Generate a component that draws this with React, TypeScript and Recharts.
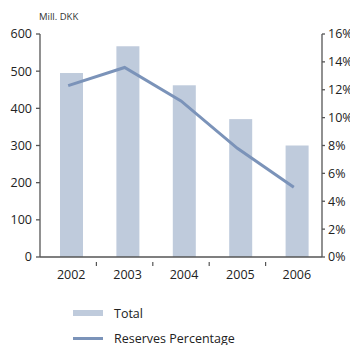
import React from 'react';
import { ComposedChart, Bar, Line, XAxis, YAxis } from 'recharts';

const years = ['2002', '2003', '2004', '2005', '2006'];
const totals = [495, 567, 462, 371, 300];
const reservesPct = [12.3, 13.6, 11.2, 7.8, 5.0];
const leftTicks = [0, 100, 200, 300, 400, 500, 600];
const rightTicks = [0, 2, 4, 6, 8, 10, 12, 14, 16];
const seriesNames = ['Total', 'Reserves Percentage'];

const BAR_COLOR = '#bfcbdc';
const LINE_COLOR = '#7b93b9';
const AXIS_COLOR = '#555';
const FONT = '"Open Sans", sans-serif';

const data = years.map((y, i) => ({ year: y, total: totals[i], pct: reservesPct[i] }));

// bars in the original sit a few px right of the band centre
const ShiftedBar = (props: any) => {
  const { x, y, width, height } = props;
  return <rect x={x + 3} y={y} width={width} height={height} fill={BAR_COLOR} />;
};

// year label plus a tick mark on the boundary between categories
const YearTick = (props: any) => {
  const { x, y, payload, index } = props;
  const half = 28.2;
  return (
    <g>
      {index < years.length - 1 && (
        <line x1={x + half} x2={x + half} y1={y - 3} y2={y + 1} stroke={AXIS_COLOR} strokeWidth={1.2} />
      )}
      <text x={x + 3} y={y + 14} textAnchor="middle" fill="#222" fontSize={12.5} fontFamily={FONT}>
        {payload.value}
      </text>
    </g>
  );
};

export default function App() {
  return (
    <div style={{ position: 'absolute', left: 0, top: 0, width: 350, height: 345, background: '#fff', fontFamily: FONT }}>
      <div style={{ position: 'absolute', left: 39, top: 10, fontSize: 9.5, color: '#333' }}>Mill. DKK</div>
      <ComposedChart width={350} height={345} data={data} margin={{ top: 34, right: 0, left: 0, bottom: 58 }}>
        <XAxis
          dataKey="year"
          height={30}
          stroke={AXIS_COLOR}
          strokeWidth={1.3}
          tickLine={false}
          tick={<YearTick />}
          interval={0}
        />
        <YAxis
          yAxisId="left"
          width={40}
          domain={[0, 600]}
          ticks={leftTicks}
          stroke={AXIS_COLOR}
          strokeWidth={1.3}
          tickSize={4}
          tickMargin={4}
          tick={{ fill: '#222', fontSize: 12.5, fontFamily: FONT }}
        />
        <YAxis
          yAxisId="right"
          orientation="right"
          width={28}
          domain={[0, 16]}
          ticks={rightTicks}
          stroke={AXIS_COLOR}
          strokeWidth={1.3}
          tickSize={3}
          tickMargin={3}
          tickFormatter={(v) => `${v}%`}
          tick={{ fill: '#222', fontSize: 12.5, fontFamily: FONT }}
        />
        <Bar yAxisId="left" dataKey="total" barSize={23} fill={BAR_COLOR} shape={<ShiftedBar />} isAnimationActive={false} />
        <Line
          yAxisId="right"
          dataKey="pct"
          stroke={LINE_COLOR}
          strokeWidth={3}
          dot={false}
          type="linear"
          isAnimationActive={false}
        />
      </ComposedChart>
      <div style={{ position: 'absolute', left: 73, top: 304, fontSize: 12.5, color: '#222' }}>
        <div style={{ display: 'flex', alignItems: 'center', height: 18, marginBottom: 7 }}>
          <span style={{ display: 'inline-block', width: 30, height: 6, background: BAR_COLOR, marginRight: 11 }} />
          {seriesNames[0]}
        </div>
        <div style={{ display: 'flex', alignItems: 'center', height: 18 }}>
          <span style={{ display: 'inline-block', width: 30, height: 3, background: LINE_COLOR, marginRight: 11 }} />
          {seriesNames[1]}
        </div>
      </div>
    </div>
  );
}
